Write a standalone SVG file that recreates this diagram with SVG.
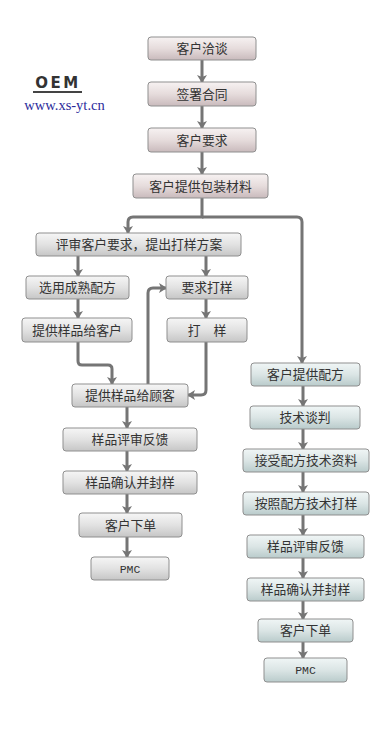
<svg xmlns="http://www.w3.org/2000/svg" width="391" height="752" viewBox="0 0 391 752">
<style>
.b rect{stroke:#8f8f8f;stroke-width:1}
.p rect{fill:url(#gp)}
.g rect{fill:url(#gg)}
.c rect{fill:url(#gc)}
text{font-family:"Noto Sans CJK SC","Noto Sans",sans-serif;font-size:12.8px;fill:#333;text-anchor:middle}
text.m{font-family:"Liberation Mono",monospace;font-size:11.5px;fill:#333}
#conn path{fill:none;stroke:#757575;stroke-width:3;marker-end:url(#ah)}
</style>
<defs>
<linearGradient id="gp" x1="0" y1="0" x2="0" y2="1"><stop offset="0" stop-color="#f7f2f2"/><stop offset="0.5" stop-color="#e6dcdc"/><stop offset="1" stop-color="#c9babc"/></linearGradient>
<linearGradient id="gg" x1="0" y1="0" x2="0" y2="1"><stop offset="0" stop-color="#f6f6f6"/><stop offset="0.5" stop-color="#e2e2e2"/><stop offset="1" stop-color="#c6c6c6"/></linearGradient>
<linearGradient id="gc" x1="0" y1="0" x2="0" y2="1"><stop offset="0" stop-color="#f0f6f6"/><stop offset="0.5" stop-color="#dbe5e5"/><stop offset="1" stop-color="#b9cbcb"/></linearGradient>
<marker id="ah" viewBox="0 0 8 10" refX="7" refY="5" markerWidth="8" markerHeight="10" markerUnits="userSpaceOnUse" orient="auto"><path d="M0,0 L8,5 L0,10 L2,5 z" fill="#757575"/></marker>
</defs>
<rect width="391" height="752" fill="#fff"/>
<g id="logo">
<text x="58" y="88" style="font-family:'DejaVu Sans',sans-serif;font-weight:bold;font-size:15px;letter-spacing:2.5px;fill:#333">OEM</text>
<rect x="33" y="91" width="49" height="2" fill="#444"/>
<text x="64.5" y="110" style="font-family:'Liberation Serif',serif;font-size:14.5px;fill:#2b2b9b">www.xs-yt.cn</text>
</g>
<g id="conn">
<path d="M202,60 V82"/>
<path d="M202,106 V128"/>
<path d="M202,152 V174"/>
<path d="M202,198 V217 H133 Q128,217 128,222 V233"/>
<path d="M202,217 H297 Q302,217 302,222 V363"/>
<path d="M78,256 V276"/>
<path d="M206,256 V276"/>
<path d="M78,299 V318"/>
<path d="M206,299 V318"/>
<path d="M78,342 V361 Q78,365 82,365 H108 Q112,365 112,369 V384"/>
<path d="M206,342 V390 Q206,395 201,395 H188"/>
<path d="M148,384 V293 Q148,288 153,288 H166"/>
<path d="M127,407 V428"/>
<path d="M127,451 V471"/>
<path d="M127,494 V513"/>
<path d="M127,537 V557"/>
<path d="M303,386 V406"/>
<path d="M303,429 V449"/>
<path d="M303,472 V492"/>
<path d="M303,515 V535"/>
<path d="M303,558 V578"/>
<path d="M303,601 V619"/>
<path d="M303,642 V658"/>
</g>
<g id="n1" class="b p"><rect x="148" y="37" width="108" height="23" rx="3"/><text x="202" y="53">客户洽谈</text></g>
<g id="n2" class="b p"><rect x="148" y="82" width="108" height="24" rx="3"/><text x="202" y="98.5">签署合同</text></g>
<g id="n3" class="b p"><rect x="148" y="128" width="108" height="24" rx="3"/><text x="202" y="144.5">客户要求</text></g>
<g id="n4" class="b p"><rect x="133" y="174" width="135" height="24" rx="3"/><text x="200.5" y="190.5">客户提供包装材料</text></g>
<g id="n5" class="b g"><rect x="36" y="233" width="205" height="23" rx="3"/><text x="139" y="249">评审客户要求，提出打样方案</text></g>
<g id="n6" class="b g"><rect x="26" y="276" width="103" height="23" rx="3"/><text x="77.5" y="292">选用成熟配方</text></g>
<g id="n7" class="b g"><rect x="166" y="276" width="82" height="23" rx="3"/><text x="207" y="292">要求打样</text></g>
<g id="n8" class="b g"><rect x="22" y="318" width="110" height="24" rx="3"/><text x="77" y="334.5">提供样品给客户</text></g>
<g id="n9" class="b g"><rect x="167" y="318" width="80" height="24" rx="3"/><text x="207" y="334.5">打　样</text></g>
<g id="n10" class="b g"><rect x="72" y="384" width="116" height="23" rx="3"/><text x="130" y="400">提供样品给顾客</text></g>
<g id="n11" class="b g"><rect x="63" y="428" width="134" height="23" rx="3"/><text x="130" y="444">样品评审反馈</text></g>
<g id="n12" class="b g"><rect x="63" y="471" width="134" height="23" rx="3"/><text x="130" y="487">样品确认并封样</text></g>
<g id="n13" class="b g"><rect x="79" y="513" width="103" height="24" rx="3"/><text x="130.5" y="529.5">客户下单</text></g>
<g id="n14" class="b g"><rect x="91" y="557" width="78" height="23" rx="3"/><text class="m" x="130" y="572.5">PMC</text></g>
<g id="n15" class="b c"><rect x="251" y="363" width="109" height="23" rx="3"/><text x="305.5" y="379">客户提供配方</text></g>
<g id="n16" class="b c"><rect x="250" y="406" width="110" height="23" rx="3"/><text x="305" y="422">技术谈判</text></g>
<g id="n17" class="b c"><rect x="243" y="449" width="126" height="23" rx="3"/><text x="306" y="465">接受配方技术资料</text></g>
<g id="n18" class="b c"><rect x="243" y="492" width="126" height="23" rx="3"/><text x="306" y="508">按照配方技术打样</text></g>
<g id="n19" class="b c"><rect x="247" y="535" width="117" height="23" rx="3"/><text x="305.5" y="551">样品评审反馈</text></g>
<g id="n20" class="b c"><rect x="247" y="578" width="117" height="23" rx="3"/><text x="305.5" y="594">样品确认并封样</text></g>
<g id="n21" class="b c"><rect x="258" y="619" width="95" height="23" rx="3"/><text x="305.5" y="635">客户下单</text></g>
<g id="n22" class="b c"><rect x="264" y="658" width="83" height="24" rx="3"/><text class="m" x="305.5" y="674">PMC</text></g>
</svg>
